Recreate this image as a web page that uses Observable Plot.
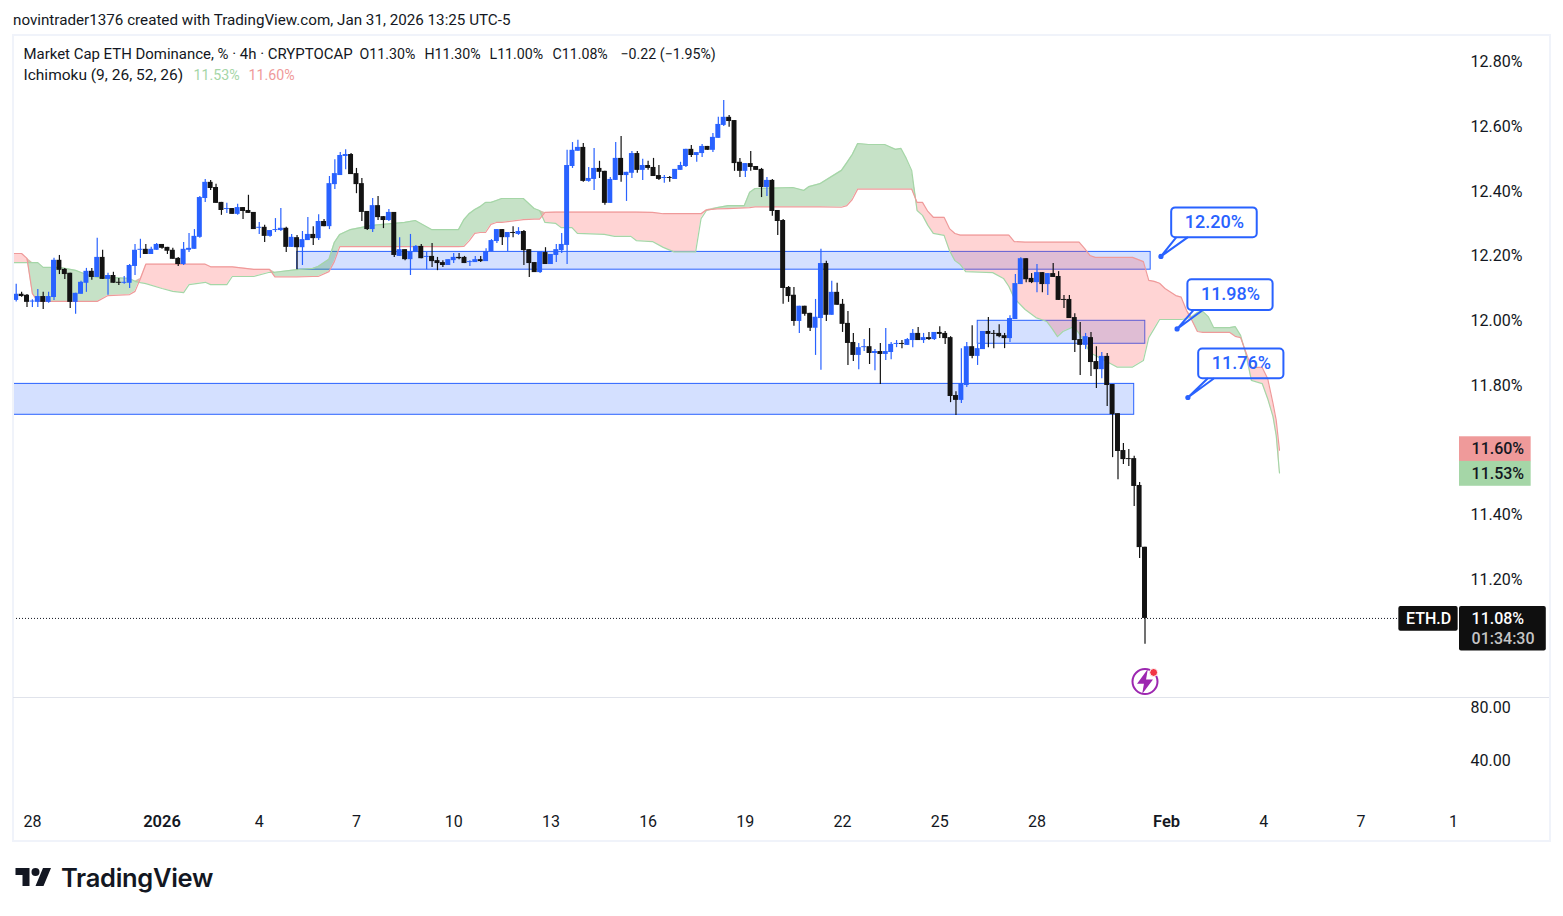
<!DOCTYPE html>
<html><head><meta charset="utf-8">
<script src="https://cdn.jsdelivr.net/npm/d3@7"></script>
<script src="https://cdn.jsdelivr.net/npm/@observablehq/plot@0.6"></script>
<style>
html,body{margin:0;padding:0;background:#fff;width:1563px;height:916px;overflow:hidden}
body{position:relative;font-family:Roboto,sans-serif;color:#131722}
#credit{position:absolute;left:13px;top:11px;font-size:15.2px;line-height:18px;white-space:nowrap}
#main{position:absolute;left:0;top:34px}
#lower{position:absolute;left:0;top:697px}
svg{display:block}
#frame{position:absolute;left:12px;top:34px;width:1535px;height:804px;border:2px solid #f0f3fa;pointer-events:none}
#sep{position:absolute;left:13px;top:697px;width:1536px;height:1px;background:#e0e3eb;pointer-events:none}
#logo{position:absolute;left:15px;top:864px;display:flex;align-items:center;gap:9px;color:#131722}
#logo span{font-family:Inter,sans-serif;font-weight:600;font-size:25.5px;letter-spacing:-.3px;line-height:28px}
</style></head><body>
<div id="credit">novintrader1376 created with TradingView.com, Jan 31, 2026 13:25 UTC-5</div>
<div id="main"></div>
<div id="lower"></div>
<div id="frame"></div><div id="sep"></div>
<div id="logo"><svg width="37" height="28" viewBox="0 0 36 28"><path fill="#131722" d="M14 22H7V11H0V4h14v18zM28 22h-8l7.5-18h8L28 22z"/><circle fill="#131722" cx="20" cy="8" r="4"/></svg><span>TradingView</span></div>
<script>
// ---- candles (bars are 4h, index 0 = first bar on the left) ----
const directions = [
 "u","d","d","u","u","d","u","u","d","d",
 "d","u","u","u","d","u","d","u","d","d",
 "u","u","u","u","d","u","u","d","d","d",
 "d","u","u","u","u","u","d","d","d","u",
 "d","u","d","d","d","u","d","u","u","u",
 "d","u","d","u","u","d","u","d","u","u",
 "u","u","d","d","d","d","u","d","d","u",
 "d","u","d","u","u","d","u","d","d","d",
 "u","u","d","d","u","u","d","u","u","u",
 "d","u","d","u","d","d","d","u","d","u",
 "u","u","u","u","u","d","u","u","d","d",
 "u","u","d","u","u","d","u","d","d","d",
 "u","d","u","u","u","d","u","u","d","u",
 "u","u","d","d","d","u","d","d","d","u",
 "d","d","d","d","d","u","d","d","u","u",
 "d","u","d","d","d","d","u","u","d","u",
 "d","u","u","u","d","u","u","d","u","d",
 "u","d","d","d","d","u","u","d","u","u",
 "d","d","d","d","u","u","u","d","d","u",
 "d","u","d","d","d","d","d","d","u","d",
 "d","u","d","d","d","d","d","d","d","d"];
const highs = [12.113,12.088,12.081,12.065,12.097,12.088,12.088,12.193,12.202,12.162,
12.147,12.085,12.122,12.162,12.162,12.255,12.218,12.147,12.150,12.131,
12.137,12.174,12.236,12.252,12.236,12.227,12.239,12.236,12.227,12.224,
12.196,12.242,12.270,12.282,12.384,12.437,12.434,12.422,12.366,12.363,
12.347,12.360,12.350,12.388,12.335,12.304,12.295,12.279,12.316,12.347,
12.289,12.267,12.264,12.276,12.319,12.291,12.328,12.313,12.446,12.498,
12.520,12.529,12.517,12.471,12.440,12.338,12.378,12.384,12.322,12.344,
12.335,12.257,12.220,12.267,12.233,12.236,12.211,12.239,12.196,12.186,
12.189,12.208,12.208,12.199,12.186,12.199,12.199,12.223,12.251,12.282,
12.282,12.273,12.291,12.288,12.279,12.220,12.180,12.214,12.226,12.205,
12.236,12.270,12.527,12.551,12.558,12.548,12.474,12.533,12.493,12.462,
12.443,12.551,12.570,12.459,12.523,12.523,12.499,12.493,12.502,12.480,
12.449,12.446,12.468,12.490,12.530,12.542,12.520,12.545,12.539,12.579,
12.629,12.681,12.635,12.619,12.502,12.486,12.523,12.477,12.471,12.443,
12.437,12.341,12.313,12.106,12.103,12.045,12.045,12.023,12.066,12.221,
12.184,12.122,12.116,12.066,12.029,11.961,11.930,11.942,11.976,11.911,
11.930,11.976,11.933,11.939,11.939,11.945,11.973,11.979,11.961,11.964,
11.964,11.982,11.967,11.951,11.781,11.914,11.933,11.985,11.927,11.967,
12.010,11.970,11.988,11.961,12.016,12.143,12.195,12.192,12.146,12.174,
12.149,12.146,12.177,12.152,12.078,12.078,12.022,11.995,11.961,11.964,
11.920,11.902,11.899,11.803,11.713,11.621,11.602,11.581,11.500,11.30];
const bodyTops = [12.082,12.082,12.079,12.061,12.075,12.075,12.075,12.187,12.187,12.159,
12.147,12.085,12.119,12.153,12.153,12.196,12.196,12.140,12.140,12.119,
12.119,12.171,12.218,12.221,12.221,12.221,12.236,12.236,12.227,12.218,
12.193,12.221,12.224,12.261,12.381,12.428,12.428,12.412,12.366,12.347,
12.347,12.350,12.350,12.341,12.335,12.289,12.289,12.279,12.282,12.286,
12.286,12.258,12.257,12.251,12.267,12.267,12.307,12.307,12.424,12.455,
12.511,12.514,12.514,12.455,12.424,12.338,12.356,12.356,12.322,12.335,
12.335,12.220,12.220,12.214,12.230,12.230,12.199,12.199,12.186,12.180,
12.189,12.196,12.196,12.196,12.183,12.189,12.189,12.214,12.248,12.282,
12.282,12.273,12.273,12.276,12.276,12.220,12.180,12.214,12.211,12.205,
12.220,12.236,12.480,12.527,12.536,12.536,12.440,12.471,12.471,12.462,
12.437,12.502,12.502,12.459,12.517,12.517,12.480,12.480,12.474,12.449,
12.443,12.443,12.468,12.480,12.530,12.530,12.520,12.539,12.539,12.567,
12.607,12.629,12.629,12.619,12.490,12.486,12.486,12.477,12.468,12.434,
12.434,12.341,12.310,12.103,12.079,12.045,12.045,12.023,12.011,12.177,
12.177,12.088,12.088,12.051,11.992,11.933,11.917,11.920,11.920,11.905,
11.905,11.905,11.927,11.930,11.930,11.942,11.961,11.961,11.948,11.948,
11.964,11.964,11.961,11.948,11.769,11.806,11.920,11.920,11.914,11.967,
11.967,11.961,11.961,11.954,12.007,12.115,12.192,12.192,12.131,12.149,
12.149,12.146,12.146,12.137,12.066,12.066,12.010,11.942,11.951,11.948,
11.874,11.890,11.890,11.803,11.713,11.599,11.574,11.574,11.491,11.30];
const bodyBottoms = [12.063,12.075,12.057,12.058,12.057,12.057,12.057,12.072,12.156,12.143,
12.057,12.057,12.082,12.116,12.134,12.134,12.128,12.128,12.116,12.116,
12.116,12.116,12.168,12.218,12.205,12.205,12.218,12.224,12.215,12.190,
12.174,12.174,12.218,12.221,12.258,12.378,12.409,12.363,12.341,12.344,
12.329,12.329,12.338,12.332,12.282,12.286,12.261,12.261,12.279,12.279,
12.227,12.227,12.226,12.226,12.248,12.254,12.254,12.291,12.291,12.421,
12.449,12.508,12.452,12.421,12.335,12.282,12.282,12.319,12.310,12.310,
12.202,12.199,12.189,12.189,12.211,12.192,12.196,12.183,12.177,12.171,
12.171,12.186,12.192,12.177,12.180,12.180,12.183,12.183,12.214,12.245,
12.257,12.257,12.270,12.267,12.217,12.177,12.149,12.149,12.174,12.174,
12.202,12.217,12.233,12.477,12.524,12.431,12.431,12.437,12.459,12.363,
12.363,12.434,12.449,12.449,12.456,12.465,12.465,12.471,12.446,12.437,
12.440,12.440,12.437,12.465,12.477,12.511,12.511,12.517,12.527,12.527,
12.564,12.604,12.616,12.486,12.462,12.462,12.474,12.465,12.412,12.412,
12.338,12.307,12.100,12.075,11.998,11.998,12.020,11.977,11.977,12.007,
12.017,12.017,12.048,11.989,11.930,11.893,11.893,11.917,11.899,11.899,
11.896,11.896,11.902,11.927,11.927,11.924,11.939,11.939,11.939,11.942,
11.942,11.958,11.945,11.766,11.754,11.754,11.800,11.890,11.890,11.911,
11.958,11.958,11.951,11.945,11.945,12.004,12.112,12.127,12.118,12.118,
12.112,12.112,12.134,12.063,12.063,12.007,11.939,11.924,11.924,11.871,
11.849,11.849,11.800,11.710,11.596,11.571,11.571,11.488,11.299,11.08];
const lows = [12.058,12.073,12.041,12.041,12.041,12.035,12.054,12.063,12.143,12.128,
12.038,12.020,12.082,12.088,12.125,12.134,12.128,12.079,12.116,12.109,
12.113,12.100,12.140,12.193,12.205,12.205,12.218,12.221,12.205,12.190,
12.168,12.171,12.211,12.221,12.255,12.366,12.403,12.363,12.326,12.332,
12.329,12.326,12.313,12.332,12.282,12.267,12.242,12.258,12.273,12.276,
12.211,12.227,12.158,12.171,12.248,12.233,12.248,12.291,12.282,12.406,
12.449,12.467,12.452,12.393,12.307,12.279,12.273,12.310,12.285,12.307,
12.196,12.199,12.186,12.140,12.211,12.192,12.158,12.165,12.155,12.165,
12.171,12.177,12.189,12.177,12.168,12.180,12.180,12.183,12.214,12.239,
12.233,12.214,12.257,12.264,12.171,12.134,12.149,12.146,12.174,12.174,
12.180,12.208,12.174,12.471,12.524,12.428,12.428,12.403,12.440,12.357,
12.363,12.434,12.428,12.369,12.440,12.456,12.434,12.465,12.446,12.434,
12.425,12.428,12.437,12.465,12.474,12.505,12.490,12.505,12.527,12.520,
12.564,12.601,12.598,12.462,12.443,12.443,12.462,12.465,12.381,12.384,
12.323,12.264,12.051,12.057,11.983,11.961,12.014,11.967,11.893,11.847,
11.998,12.017,12.048,11.964,11.862,11.874,11.849,11.905,11.865,11.846,
11.803,11.877,11.880,11.917,11.914,11.924,11.917,11.939,11.930,11.939,
11.939,11.945,11.927,11.747,11.707,11.744,11.794,11.883,11.862,11.911,
11.917,11.914,11.948,11.914,11.933,12.004,12.112,12.118,12.115,12.087,
12.087,12.078,12.134,12.063,12.038,12.007,11.902,11.831,11.911,11.828,
11.791,11.821,11.735,11.577,11.509,11.556,11.550,11.426,11.265,11.00];

// ---- Ichimoku cloud, read at these bars (the cloud runs 26 bars past the last candle) ----
const cloudBars = [-0.5,1,2,3,4,5,8,11,13,15,17,21,22,23,24,27,29,31,32,35,36,39,40,44,46.9,47.9,51.9,54.9,55.9,57.9,58.9,59.9,61.9,65.9,71.9,73.9,76.9,81.9,82.9,83.9,84.9,85.9,86.9,87.9,88.9,89.9,93.9,95.9,96.9,97.9,99.9,100.9,102.9,103.9,108.9,110.8,113.8,114.8,117.8,119.8,121.8,125.8,126.8,127.8,129.8,131.8,134.8,135.8,136.8,143.8,145.8,146.8,148.8,152.8,153.8,154.8,155.8,157.8,160.8,162.8,163.8,164.8,165.8,166.8,167.8,168.8,169.8,171.8,172.8,173.8,174.8,175.8,180.8,182.8,183.8,184.8,186.8,188.8,190.8,191.8,192.8,193.8,195.8,196.8,197.8,198.8,199.8,203.8,206.7,208.7,209.7,210.7,211.7,212.7,214.7,215.7,216.7,217.7,218.7,219.7,220.7,221.7,224.7,225.7,226.7,227.7,228.7,230.7,231.7,232.7,233.3,233.9];
const spanA = [12.180,12.180,12.180,12.180,12.180,12.165,12.165,12.156,12.143,12.134,12.134,12.131,12.122,12.118,12.115,12.100,12.091,12.087,12.112,12.119,12.112,12.112,12.137,12.137,12.150,12.150,12.158,12.162,12.168,12.190,12.242,12.267,12.282,12.295,12.304,12.310,12.282,12.282,12.313,12.332,12.344,12.353,12.366,12.366,12.372,12.378,12.378,12.347,12.341,12.304,12.301,12.288,12.288,12.270,12.267,12.261,12.261,12.248,12.245,12.227,12.213,12.213,12.316,12.341,12.350,12.356,12.356,12.397,12.409,12.412,12.403,12.415,12.424,12.465,12.489,12.514,12.548,12.545,12.545,12.530,12.533,12.502,12.465,12.341,12.326,12.295,12.270,12.264,12.217,12.186,12.174,12.152,12.149,12.131,12.106,12.069,12.035,12.010,11.998,11.976,11.951,11.967,11.982,11.961,11.933,11.902,11.893,11.857,11.857,11.877,11.948,11.976,12.004,12.004,12.004,12.004,12.007,12.013,12.026,12.029,12.013,11.979,11.979,11.982,11.955,11.896,11.816,11.806,11.760,11.704,11.645,11.53];
const spanB = [12.208,12.208,12.193,12.084,12.060,12.060,12.060,12.060,12.060,12.060,12.078,12.081,12.091,12.131,12.175,12.175,12.175,12.175,12.175,12.175,12.167,12.167,12.167,12.159,12.159,12.136,12.136,12.137,12.137,12.152,12.183,12.229,12.229,12.229,12.229,12.229,12.229,12.229,12.230,12.248,12.270,12.273,12.273,12.298,12.304,12.304,12.313,12.314,12.314,12.335,12.336,12.336,12.336,12.336,12.336,12.336,12.336,12.336,12.335,12.331,12.331,12.331,12.331,12.343,12.346,12.347,12.349,12.350,12.352,12.352,12.352,12.352,12.352,12.351,12.356,12.375,12.407,12.407,12.407,12.407,12.407,12.407,12.407,12.366,12.366,12.338,12.320,12.320,12.285,12.270,12.265,12.265,12.265,12.265,12.265,12.245,12.243,12.243,12.243,12.243,12.243,12.243,12.243,12.243,12.224,12.202,12.196,12.196,12.196,12.183,12.125,12.122,12.116,12.100,12.078,12.073,12.032,12.001,11.967,11.964,11.964,11.964,11.964,11.952,11.948,11.902,11.856,11.856,11.822,11.745,11.692,11.60];

// ---- zones drawn on the chart ----
const zoneFrom = [52.03,178.03,-0.5];
const zoneTo = [210.05,209.05,207.0];
const zoneHigh = [12.213,12.0,11.805];
const zoneLow = [12.158,11.929,11.7095];

// ---- callouts ----
const calloutText = ["12.20%","11.98%","11.76%"];
const calloutLeft = [213.94,216.94,218.94];
const calloutRight = [229.78,232.72,234.72];
const calloutTop = [12.349,12.127,11.913];
const calloutBottom = [12.257,12.032,11.821];
const calloutTextBar = [221.83,224.83,226.83];
const calloutTextPrice = [12.304,12.081,11.868];
const calloutDotBar = [211.95,214.94,216.94];
const calloutDotPrice = [12.199,11.975,11.763];
const tailBarA = [214.74,217.94,220.54];
const tailBarB = [216.83,219.59,221.68];

// ---- axes ----
const priceTicks = [12.8,12.6,12.4,12.2,12.0,11.8,11.4,11.2];
const lowerTicks = [80,40];
const timeBars = [3,45,63,81,99,117,135,153,171,189,231,249,266.1];
const timeLabels = ["28","4","7","10","13","16","19","22","25","28","4","7","1"];
const boldBars = [27,213];
const boldLabels = ["2026","Feb"];
const font = "Roboto, sans-serif";
const ink = "#131722", blue = "#2962ff";

const barDomain = [-0.5,267.23];
const bars = d3.range(highs.length).map(i => ({
  i, dir: directions[i], high: highs[i], low: lows[i], top: bodyTops[i], bottom: bodyBottoms[i]
}));
const cloud = cloudBars.map((b,k) => ({b, a: spanA[k], bb: spanB[k], hi: Math.max(spanA[k],spanB[k])}));
const zones = zoneFrom.map((_,k) => ({x1: zoneFrom[k], x2: zoneTo[k], y1: zoneLow[k], y2: zoneHigh[k]}));
const callouts = calloutText.map((t,k) => ({t, k}));
const tails = callouts.flatMap(({k}) => [
  {k, x: tailBarA[k], y: calloutBottom[k]},
  {k, x: calloutDotBar[k], y: calloutDotPrice[k]},
  {k, x: tailBarB[k], y: calloutBottom[k]}]);

const tagText = 269.46;
const tags = [
  {label:"11.60%", v:11.603, fill:"#ef9a9a", right:280.5},
  {label:"11.53%", v:11.527, fill:"#a5d6a7", right:280.5}];
const tagHalf = 0.0385;

const legendParts = [
  ["Market Cap ETH Dominance, % · 4h · CRYPTOCAP", 23, 20, ink, 14.95],
  ["O11.30%", 359, 20, ink, 14.2],["H11.30%", 424, 20, ink, 14.2],["L11.00%", 489, 20, ink, 14.2],["C11.08%", 552, 20, ink, 14.2],
  ["−0.22 (−1.95%)", 620, 20, ink, 14.2],
  ["Ichimoku (9, 26, 52, 26)", 23, 41, ink, 15.5],["11.53%", 193, 41, "#a5d6a7", 14.2],["11.60%", 248, 41, "#ef9a9a", 14.2]];

const bolt = {draw(c, size){
  const s = Math.sqrt(size)/10;
  c.moveTo( 1.6*s,-7*s); c.lineTo(-4.5*s, 1.2*s); c.lineTo(-0.6*s, 1.2*s);
  c.lineTo(-1.6*s, 7*s); c.lineTo( 4.5*s,-1.2*s); c.lineTo( 0.6*s,-1.2*s); c.closePath();
}};

const main = Plot.plot({
  width:1563, height:663, marginTop:0, marginBottom:0, marginLeft:13, marginRight:104,
  style:{fontFamily:font, background:"transparent", overflow:"visible"},
  x:{domain:barDomain, axis:null},
  y:{domain:[10.8356,12.885]},
  marks:[
    Plot.axisY(priceTicks,{anchor:"right", tickSize:0, tickPadding:11, fontSize:16, label:null, fill:ink, tickFormat:d=>d.toFixed(2)+"%"}),
    Plot.rect(zones,{x1:"x1",x2:"x2",y1:"y1",y2:"y2",fill:blue,fillOpacity:0.2,stroke:blue,strokeWidth:1}),
    Plot.areaY(cloud,{x:"b",y1:"bb",y2:"hi",fill:"rgb(67,160,71)",fillOpacity:0.3,curve:"linear"}),
    Plot.areaY(cloud,{x:"b",y1:"a",y2:"hi",fill:"rgb(255,82,82)",fillOpacity:0.25,curve:"linear"}),
    Plot.lineY(cloud,{x:"b",y:"a",stroke:"#a5d6a7",strokeWidth:1.2}),
    Plot.lineY(cloud,{x:"b",y:"bb",stroke:"#ef9a9a",strokeWidth:1.2}),
    Plot.ruleY([11.08],{x1:barDomain[0],x2:256,stroke:ink,strokeWidth:1,strokeDasharray:"1,2"}),
    Plot.ruleX(bars.filter(d=>d.dir==="u"),{x:"i",y1:"low",y2:"high",stroke:blue,strokeWidth:1.2}),
    Plot.ruleX(bars.filter(d=>d.dir==="d"),{x:"i",y1:"low",y2:"high",stroke:"#131313",strokeWidth:1.2}),
    Plot.rect(bars.filter(d=>d.dir==="u"),{x1:d=>d.i-0.46,x2:d=>d.i+0.46,y1:"bottom",y2:"top",fill:blue}),
    Plot.rect(bars.filter(d=>d.dir==="d"),{x1:d=>d.i-0.46,x2:d=>d.i+0.46,y1:"bottom",y2:"top",fill:"#131313"}),
    // callouts
    Plot.rect(callouts,{x1:d=>calloutLeft[d.k],x2:d=>calloutRight[d.k],y1:d=>calloutBottom[d.k],y2:d=>calloutTop[d.k],fill:"none",stroke:blue,strokeWidth:2,r:4}),
    Plot.line(tails,{x:"x",y:"y",z:"k",stroke:blue,strokeWidth:2}),
    Plot.dot(callouts,{x:d=>calloutDotBar[d.k],y:d=>calloutDotPrice[d.k],r:2.6,fill:blue}),
    Plot.text(callouts,{x:d=>calloutTextBar[d.k],y:d=>calloutTextPrice[d.k],text:"t",fill:blue,fontSize:18,fontWeight:500}),
    // price tags in the right-hand scale
    Plot.rect(tags,{x1:267.23,x2:"right",y1:d=>d.v-tagHalf,y2:d=>d.v+tagHalf,fill:"fill"}),
    Plot.text(tags,{x:tagText,y:"v",text:"label",textAnchor:"start",fontSize:16,fill:"#131722",fontWeight:500}),
    Plot.rect([0],{x1:256,x2:266.98,y1:11.040,y2:11.117,fill:"#0f0f0f",r:2}),
    Plot.rect([0],{x1:267.23,x2:283.3,y1:10.979,y2:11.117,fill:"#0f0f0f",r:2}),
    Plot.text(["ETH.D"],{x:261.5,y:11.08,text:d=>d,fill:"#fff",fontSize:16,fontWeight:500}),
    Plot.text(["11.08%"],{x:tagText,y:11.08,text:d=>d,textAnchor:"start",fill:"#fff",fontSize:16,fontWeight:500}),
    Plot.text(["01:34:30"],{x:tagText,y:11.018,text:d=>d,textAnchor:"start",fill:"#c4c4c4",fontSize:16,fontWeight:500}),
    // alert icon under the last bar
    Plot.dot([0],{x:209,y:10.885,r:12.5,fill:"none",stroke:"#9c27b0",strokeWidth:2}),
    Plot.dot([0],{x:209,y:10.885,r:10,symbol:bolt,fill:"#9c27b0"}),
    Plot.dot([0],{x:210.6,y:10.913,r:4,fill:"#f23645",stroke:"#fff",strokeWidth:1}),
    // legend
    ...legendParts.map(([t,left,top,col,size]) => Plot.text([t],{
      text:d=>d, frameAnchor:"top-left", textAnchor:"start", lineAnchor:"middle",
      dx:left-13, dy:top, fill:col, fontSize:size}))
  ]
});
document.getElementById("main").append(main);

const lower = Plot.plot({
  width:1563, height:143, marginTop:0, marginBottom:35, marginLeft:13, marginRight:104,
  style:{fontFamily:font, background:"transparent", overflow:"visible"},
  x:{domain:barDomain, axis:null},
  y:{domain:[6.04,87.55]},
  marks:[
    Plot.axisY(lowerTicks,{anchor:"right", tickSize:0, tickPadding:11, fontSize:16, label:null, fill:ink, tickFormat:d=>d.toFixed(2)}),
    Plot.text(timeBars,{x:d=>d, text:(d,i)=>timeLabels[i], frameAnchor:"bottom", dy:21, fontSize:16, fill:ink}),
    Plot.text(boldBars,{x:d=>d, text:(d,i)=>boldLabels[i], frameAnchor:"bottom", dy:21, fontSize:16.5, fontWeight:600, fill:ink})
  ]
});
document.getElementById("lower").append(lower);
</script>
</body></html>
